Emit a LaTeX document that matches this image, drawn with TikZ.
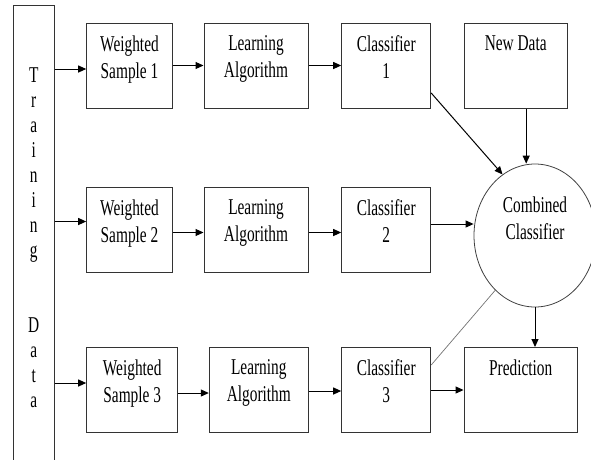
\documentclass[tikz,border=0pt]{standalone}
\usepackage{fontspec}
\setmainfont{Liberation Serif}[FakeStretch=0.68]
\usepackage{tikz}
\usetikzlibrary{arrows.meta,shapes.geometric}

\begin{document}
\begin{tikzpicture}[x=1pt,y=-1pt,>={Triangle[length=8pt,width=7pt]},line width=1pt,
			font=\fontsize{22.6}{27}\selectfont,
			box/.style={draw=black!80,rectangle,minimum height=85pt},
			boxtext/.style={anchor=north,yshift=-12.5pt,inner sep=0pt,align=center},
			combtext/.style={anchor=north,yshift=17pt,inner sep=0pt,align=center},
			traintext/.style={anchor=north,yshift=-63pt,inner sep=0pt,align=center,font=\fontsize{22.6}{25}\selectfont}]

			\useasboundingbox (0,0) rectangle (591,459);
			\clip (0,0) rectangle (591,459);

			% training data column
			\node[draw=black!80,minimum width=41pt,minimum height=470pt,
				label={[traintext]north:{T\\r\\a\\i\\n\\i\\n\\g\\[50pt]D\\a\\t\\a}}] (train) at (33.7,240) {};

			% first row
			\node[box,minimum width=85.6pt,label={[boxtext]north:{Weighted\\Sample 1}}] (ws1) at (129.5,65.5) {};
			\node[box,minimum width=104pt,label={[boxtext]north:{Learning\\Algorithm}}] (la1) at (256,65.5) {};
			\node[box,minimum width=89pt,label={[boxtext]north:{Classifier\\1}}] (c1) at (386.2,65.5) {};
			\node[box,minimum width=103.3pt,label={[boxtext]north:{New Data}}] (nd) at (515.7,65.5) {};

			% second row
			\node[box,minimum width=85.6pt,label={[boxtext]north:{Weighted\\Sample 2}}] (ws2) at (129.5,229.5) {};
			\node[box,minimum width=104pt,label={[boxtext]north:{Learning\\Algorithm}}] (la2) at (256,229.5) {};
			\node[box,minimum width=89pt,label={[boxtext]north:{Classifier\\2}}] (c2) at (386.2,229.5) {};

			% third row
			\node[box,minimum width=91pt,label={[boxtext]north:{Weighted\\Sample 3}}] (ws3) at (132.2,390) {};
			\node[box,minimum width=99pt,label={[boxtext]north:{Learning\\Algorithm}}] (la3) at (258.8,390) {};
			\node[box,minimum width=89pt,label={[boxtext]north:{Classifier\\3}}] (c3) at (386.2,390) {};
			\node[box,minimum width=113.3pt,label={[boxtext]north:{Prediction}}] (pred) at (520.7,390) {};

			% combined classifier
			\node[ellipse,draw=black!75,line width=0.8pt,minimum width=122pt,minimum height=143pt,
				label={[combtext]center:{Combined\\Classifier}}] (comb) at (535,235.5) {};

			\draw[->] ([yshift=-3.5pt]ws1.west -| train.east) -- ([yshift=-3.5pt]ws1.west);
			\draw[->] ([yshift=8pt]ws2.west -| train.east) -- ([yshift=8pt]ws2.west);
			\draw[->] ([yshift=7pt]ws3.west -| train.east) -- ([yshift=7pt]ws3.west);

			\draw[->] (ws1) -- (la1);
			\draw[->] (la1) -- (c1);
			\draw[->] ([yshift=-3pt]ws2.east) -- ([yshift=-3pt]la2.west);
			\draw[->] ([yshift=-3pt]la2.east) -- ([yshift=-3pt]c2.west);
			\draw[->] ([yshift=-3pt]ws3.east) -- ([yshift=-3pt]la3.west);
			\draw[->] ([yshift=-1pt]la3.east) -- ([yshift=-1pt]c3.west);
			\draw[->] (c3) -- (pred);

			\draw[->] ([yshift=-27.5pt]c1.east) -- (comb.118);
			\draw[->] ([xshift=10.5pt]nd.south) -- ([xshift=10.5pt]nd.south |- comb.north);
			\draw[->] ([yshift=5.5pt]c2.east) -- ([yshift=5.5pt]c2.east -| comb.west);
			\draw[black!55,line width=0.7pt] ([yshift=-18pt]c3.north east) -- (comb.234);
			\draw[->] (comb.south) -- (comb.south |- pred.north);

		\end{tikzpicture}
\end{document}
